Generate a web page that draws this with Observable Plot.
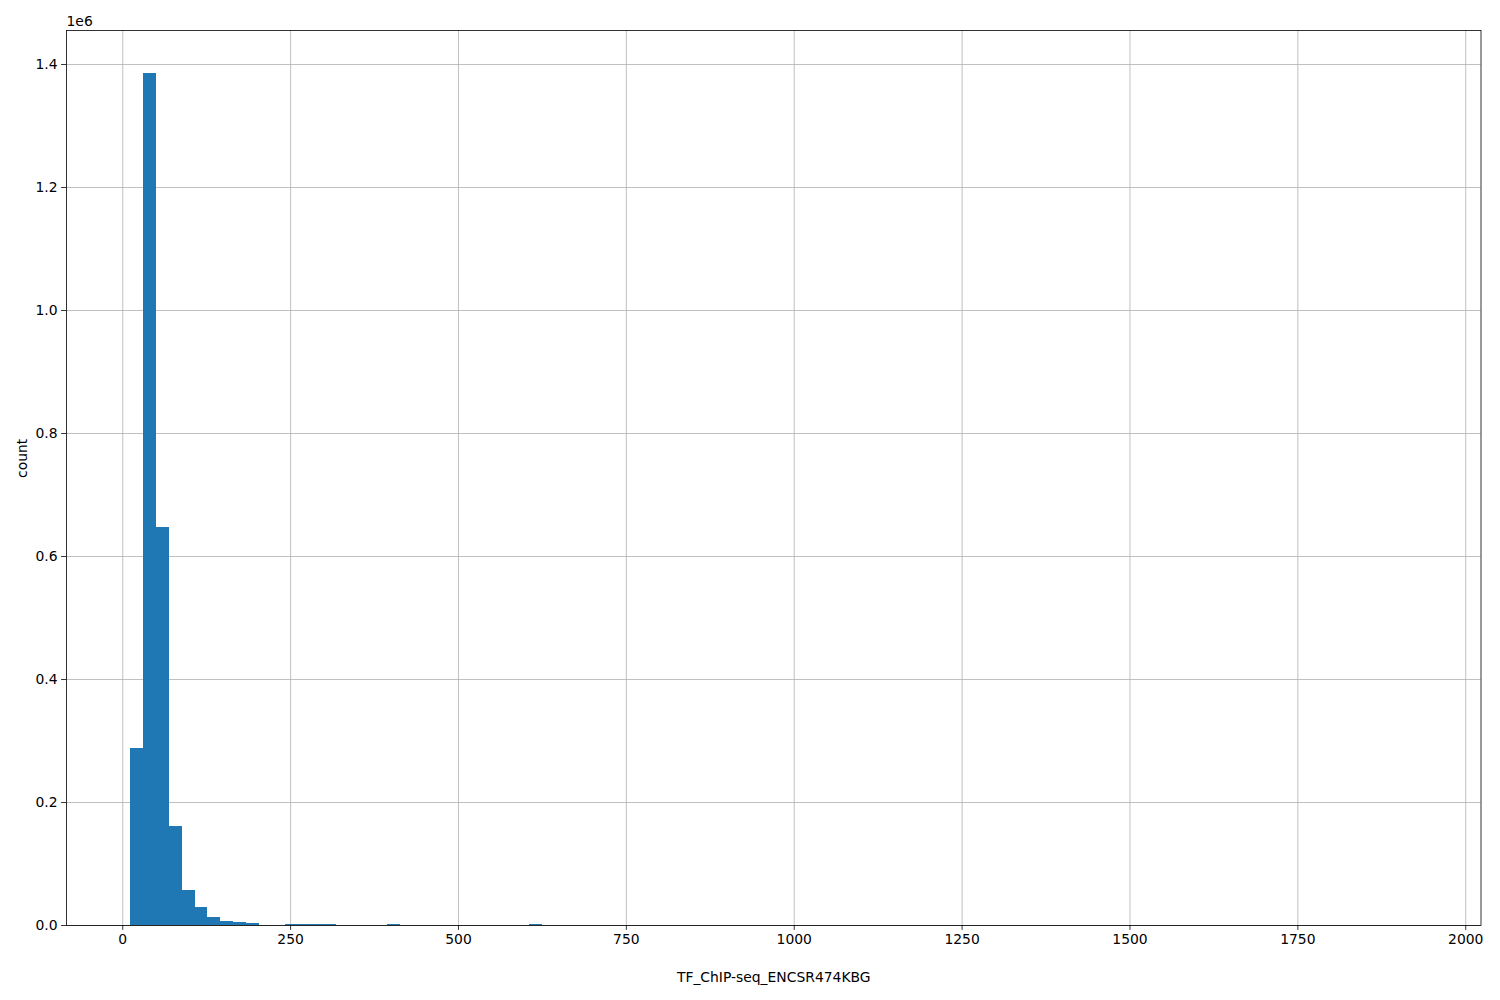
<!DOCTYPE html>
<html>
<head>
<meta charset="utf-8">
<script src="https://cdn.jsdelivr.net/npm/d3@7"></script>
<script src="https://cdn.jsdelivr.net/npm/@observablehq/plot@0.6"></script>
<style>
  html, body { margin: 0; padding: 0; background: #fff; }
  #chart { width: 1500px; height: 1000px; }
  svg { font-family: "DejaVu Sans", sans-serif; }
</style>
</head>
<body>
<div id="chart"></div>
<script>
// Histogram: 100 equal-width bins between the data min and max
const binStart = 12;
const binEnd = 1927;
const binCount = 100;
// counts per bin
const counts = [
  287800, 1386000, 647200, 161000, 56900, 29300, 13500, 6500, 4600, 3200,
  400, 300, 1500, 1500, 1500, 1400, 200, 150, 120, 100,
  1200, 80, 60, 50, 40, 40, 30, 30, 30, 30,
  30, 1200, 25, 20, 20, 15, 15, 15, 10, 10,
  10, 10, 8, 8, 8, 6, 6, 6, 5, 5,
  5, 5, 4, 4, 4, 4, 3, 3, 3, 3,
  3, 3, 2, 2, 2, 2, 2, 2, 2, 2,
  1, 1, 1, 1, 1, 1, 1, 1, 1, 1,
  1, 1, 1, 1, 1, 1, 1, 1, 1, 1,
  1, 1, 1, 1, 1, 1, 1, 1, 1, 1
];
const xTicks = [0, 250, 500, 750, 1000, 1250, 1500, 1750, 2000];
const yTicks = [0, 200000, 400000, 600000, 800000, 1000000, 1200000, 1400000];
const xLabel = "TF_ChIP-seq_ENCSR474KBG";
const yLabel = "count";
const offsetText = "1e6";

const binWidth = (binEnd - binStart) / binCount;
const bins = counts.map((c, i) => ({
  x1: binStart + i * binWidth,
  x2: binStart + (i + 1) * binWidth,
  count: c
}));

const span = binEnd - binStart;
const xDomain = [binStart - 0.05 * span, binEnd + 0.05 * span];
const yMax = d3.max(counts) * 1.05;

const FS = 13.9;
const plot = Plot.plot({
  width: 1500,
  height: 1000,
  marginLeft: 66,
  marginRight: 19.5,
  marginTop: 30,
  marginBottom: 75,
  style: { fontFamily: "DejaVu Sans, sans-serif", fontSize: FS + "px", color: "#000", background: "#fff" },
  x: { domain: xDomain, ticks: xTicks },
  y: { domain: [0, yMax], ticks: yTicks },
  marks: [
    Plot.gridX(xTicks, { stroke: "#b0b0b0", strokeOpacity: 1, strokeWidth: 0.8 }),
    Plot.gridY(yTicks, { stroke: "#b0b0b0", strokeOpacity: 1, strokeWidth: 0.8 }),
    Plot.rectY(bins, { x1: "x1", x2: "x2", y: "count", fill: "#1f77b4", inset: 0, shapeRendering: "crispEdges" }),
    Plot.axisX(xTicks, { tickSize: 4.9, tickPadding: 4, tickFormat: d => String(d), label: null, fontSize: FS, strokeWidth: 0.8 }),
    Plot.axisY(yTicks, { tickSize: 4.9, tickPadding: 4, tickFormat: d => (d / 1e6).toFixed(1), label: null, fontSize: FS, strokeWidth: 0.8 }),
    Plot.frame({ stroke: "#000", strokeWidth: 0.8 }),
    Plot.text([offsetText], { text: d => d, frameAnchor: "top-left", dy: -8.5, textAnchor: "start", lineAnchor: "middle", fontSize: FS, dx: 0 }),
    Plot.text([xLabel], { text: d => d, frameAnchor: "bottom", dy: 52, lineAnchor: "middle", fontSize: FS }),
    Plot.text([yLabel], { text: d => d, frameAnchor: "left", dx: -44, rotate: -90, lineAnchor: "middle", fontSize: FS })
  ]
});
document.getElementById("chart").appendChild(plot);
</script>
</body>
</html>
